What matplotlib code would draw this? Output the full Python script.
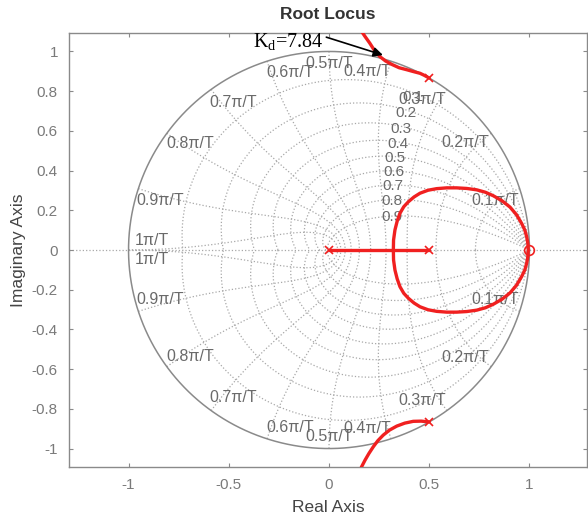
import numpy as np
import matplotlib
matplotlib.use("Agg")
import matplotlib.pyplot as plt

# Root locus data
poles_re = [0.0, 0.5, 0.5, 0.5]
poles_im = [0.0, 0.0, 0.866, -0.866]
zeros_re = [1.0]
zeros_im = [0.0]

# real-axis segment between the two real poles
seg_re = [0.0, 0.5]
seg_im = [0.0, 0.0]

# closed loop around the zero (upper half, mirrored below)
loop_re = [0.321, 0.322, 0.329, 0.340, 0.354, 0.373, 0.396, 0.424, 0.454, 0.494, 0.537, 0.587,
           0.637, 0.687, 0.737, 0.780, 0.820, 0.863, 0.903, 0.935, 0.961, 0.977, 0.986, 0.992, 0.994]
loop_im = [0.0, 0.050, 0.101, 0.145, 0.185, 0.218, 0.243, 0.267, 0.286, 0.301, 0.309, 0.313,
           0.313, 0.310, 0.303, 0.291, 0.273, 0.248, 0.216, 0.178, 0.134, 0.100, 0.067, 0.033, 0.0]

# branches leaving the complex poles
up_re = [0.5, 0.475, 0.454, 0.420, 0.388, 0.350, 0.313, 0.282, 0.254, 0.228, 0.204, 0.180, 0.158, 0.14]
up_im = [0.866, 0.880, 0.890, 0.899, 0.908, 0.918, 0.935, 0.952, 0.974, 1.003, 1.041, 1.075, 1.108, 1.15]
lo_re = [0.5, 0.460, 0.420, 0.378, 0.338, 0.302, 0.271, 0.244, 0.221, 0.199, 0.180, 0.162, 0.145]
lo_im = [-0.866, -0.862, -0.863, -0.872, -0.887, -0.907, -0.932, -0.960, -0.991, -1.025, -1.058,
         -1.093, -1.13]

zeta_vals = [0.1, 0.2, 0.3, 0.4, 0.5, 0.6, 0.7, 0.8, 0.9]
wn_vals = [0.1, 0.2, 0.3, 0.4, 0.5, 0.6, 0.7, 0.8, 0.9, 1.0]
wn_text = ["0.1\u03c0/T", "0.2\u03c0/T", "0.3\u03c0/T", "0.4\u03c0/T", "0.5\u03c0/T",
           "0.6\u03c0/T", "0.7\u03c0/T", "0.8\u03c0/T", "0.9\u03c0/T", "1\u03c0/T"]

kd_value = 7.84
kd_point = (0.269, 0.982)

xticks = [-1, -0.5, 0, 0.5, 1]
xtick_labels = ["-1", "-0.5", "0", "0.5", "1"]
yticks = [-1, -0.8, -0.6, -0.4, -0.2, 0, 0.2, 0.4, 0.6, 0.8, 1]
ytick_labels = ["-1", "-0.8", "-0.6", "-0.4", "-0.2", "0", "0.2", "0.4", "0.6", "0.8", "1"]

# label anchors for the frequency curves (upper half, mirrored below)
wn_label_pos = [(0.828, 0.247), (0.678, 0.539), (0.464, 0.756), (0.190, 0.897), (0.0, 0.937),
                (-0.195, 0.895), (-0.479, 0.745), (-0.693, 0.534), (-0.843, 0.247), (-0.883, 0.05)]

plt.rcParams["font.family"] = ["Liberation Sans", "DejaVu Sans"]
plt.rcParams["axes.unicode_minus"] = False
plt.rcParams["mathtext.fontset"] = "custom"
plt.rcParams["mathtext.rm"] = "Liberation Serif"

GRID = "#a8a8a8"
LBL = "#6a6a6a"
RED = "#f02020"

fig = plt.figure(figsize=(5.88, 5.2), dpi=100)
ax = fig.add_axes([69 / 588, 53 / 520, 518 / 588, 434 / 520])

# z-plane grid: damping spirals
for z in zeta_vals:
    th = np.linspace(0, np.pi, 300)
    r = np.exp(-z * th / np.sqrt(1 - z ** 2))
    ax.plot(r * np.cos(th), r * np.sin(th), ls=":", color=GRID, lw=0.9, zorder=1)
    ax.plot(r * np.cos(th), -r * np.sin(th), ls=":", color=GRID, lw=0.9, zorder=1)
    t3 = np.pi / 3 * np.sqrt(1 - z ** 2)
    r3 = np.exp(-z * np.pi / 3)
    ax.text(r3 * np.cos(t3) - 0.035, r3 * np.sin(t3) - 0.005, f"{z:g}", ha="center",
            va="center", fontsize=11, color=LBL, zorder=2)

# natural frequency curves
zz = np.linspace(0, 1, 200)
for w in wn_vals:
    wt = w * np.pi
    r = np.exp(-zz * wt)
    th = wt * np.sqrt(1 - zz ** 2)
    ax.plot(r * np.cos(th), r * np.sin(th), ls=":", color=GRID, lw=0.9, zorder=1)
    ax.plot(r * np.cos(th), -r * np.sin(th), ls=":", color=GRID, lw=0.9, zorder=1)

for txt, (lx, ly) in zip(wn_text, wn_label_pos):
    ax.text(lx, ly, txt, ha="center", va="center", fontsize=11.5, color=LBL, zorder=2)
    ax.text(lx, -ly, txt, ha="center", va="center", fontsize=11.5, color=LBL, zorder=2)

ax.axhline(0, ls=":", color=GRID, lw=0.9, zorder=1)

# unit circle
t = np.linspace(0, 2 * np.pi, 400)
ax.plot(np.cos(t), np.sin(t), color="#8a8a8a", lw=1.1, zorder=2)

# locus
kw = dict(color=RED, lw=2.4, zorder=4, solid_joinstyle="round", solid_capstyle="round")
ax.plot(seg_re, seg_im, **kw)
lr = np.array(loop_re)
li = np.array(loop_im)
ax.plot(np.r_[lr, lr[::-1]], np.r_[li, -li[::-1]], **kw)
ax.plot(up_re, up_im, **kw)
ax.plot(lo_re, lo_im, **kw)
ax.plot(poles_re, poles_im, "x", color=RED, ms=6, mew=1.2, zorder=5)
ax.plot(zeros_re, zeros_im, "o", color=RED, mfc="none", ms=7, mew=1.2, zorder=5)

ax.annotate(r"$\mathrm{K_d}$=" + f"{kd_value}", xy=kd_point, xytext=(-0.379, 1.05),
            textcoords="data", ha="left", va="center", fontsize=14.5,
            family="Liberation Serif", color="black", zorder=6,
            arrowprops=dict(arrowstyle="-|>", color="black", lw=1.2,
                            mutation_scale=14, relpos=(1.0, 0.75), shrinkA=0, shrinkB=0))

ax.set_xlim(-1.297, 1.287)
ax.set_ylim(-1.093, 1.093)
ax.set_xticks(xticks)
ax.set_xticklabels(xtick_labels)
ax.set_yticks(yticks)
ax.set_yticklabels(ytick_labels)
ax.tick_params(direction="in", length=3, width=0.8, colors="#8a8a8a",
               labelcolor="#7a7a7a", labelsize=11, top=True, right=True, pad=8)
for s in ax.spines.values():
    s.set_color("#8a8a8a")
    s.set_linewidth(1.0)

ax.set_title("Root Locus", fontsize=12.5, fontweight="bold", color="#333333", pad=10)
ax.set_xlabel("Real Axis", fontsize=12.5, color="#444444", labelpad=6)
ax.set_ylabel("Imaginary Axis", fontsize=12.5, color="#444444", labelpad=4)

fig.savefig("out.png", dpi=100)
